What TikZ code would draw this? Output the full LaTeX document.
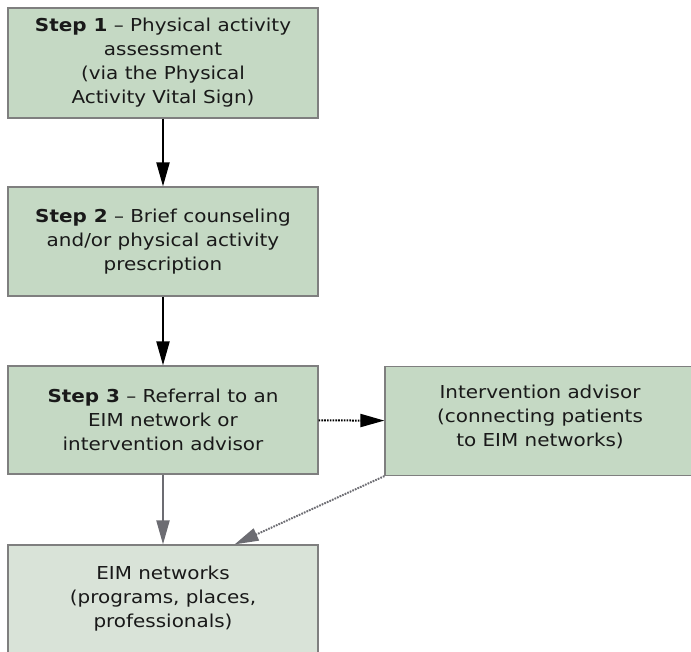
\documentclass[tikz,border=0pt]{standalone}
\usepackage{fontspec}
\setmainfont[FakeStretch=1.12]{DejaVu Sans}
\usetikzlibrary{arrows.meta, calc, positioning}
\definecolor{boxgreen}{HTML}{C5D9C4}
\definecolor{boxpale}{HTML}{D9E3D8}
\definecolor{boxline}{HTML}{7F7F7F}
\definecolor{arrowgrey}{HTML}{6C6C72}
\begin{document}
\begin{tikzpicture}
          [
            x=1pt,y=-1pt,
            stepbox/.style={draw=boxline,line width=1.2pt,fill=boxgreen,
              minimum width=310pt,inner sep=0pt,align=center,
              font=\fontsize{17.8}{24}\selectfont,text=black!90},
            flow/.style={line width=2pt,-{Triangle[width=13pt,length=24pt]}},
            dots/.style={flow,dash pattern=on 1.6pt off 1.2pt}
          ]
          \useasboundingbox (0,0) rectangle (691,652);
          \clip (0,0) rectangle (691,652);
          % step 1
          \node[stepbox,minimum height=110pt] (assess) at (163,63)
          {\textbf{Step 1} -- Physical activity\\assessment\\(via the Physical\\Activity Vital Sign)};
          % step 2
          \node[stepbox,minimum height=109pt] (counsel) at (163,241.5)
          {\textbf{Step 2} -- Brief counseling\\and/or physical activity\\prescription};
          % step 3
          \node[stepbox,minimum height=108pt] (referral) at (163,420)
          {\textbf{Step 3} -- Referral to an\\EIM network or\\intervention advisor};
          % advisor
          \node[stepbox,minimum height=109pt,text depth=10pt] (advisor) at (540,421)
          {Intervention advisor\\(connecting patients\\to EIM networks)};
          % networks
          \node[stepbox,fill=boxpale,minimum height=112pt,text depth=8pt] (networks) at (163,601)
          {EIM networks\\(programs, places,\\professionals)};
          \coordinate (netin) at ($(networks.north west)!0.73!(networks.north east)$);
          % edges
          \draw [flow] (assess) -- (counsel);
          \draw [flow] (counsel) -- (referral);
          \draw [flow,draw=arrowgrey,fill=arrowgrey] (referral) -- (networks);
          \draw [dots] (referral) -- (advisor);
          \draw [dots,draw=arrowgrey,fill=arrowgrey] (advisor.south west) -- (netin);
        \end{tikzpicture}
\end{document}
